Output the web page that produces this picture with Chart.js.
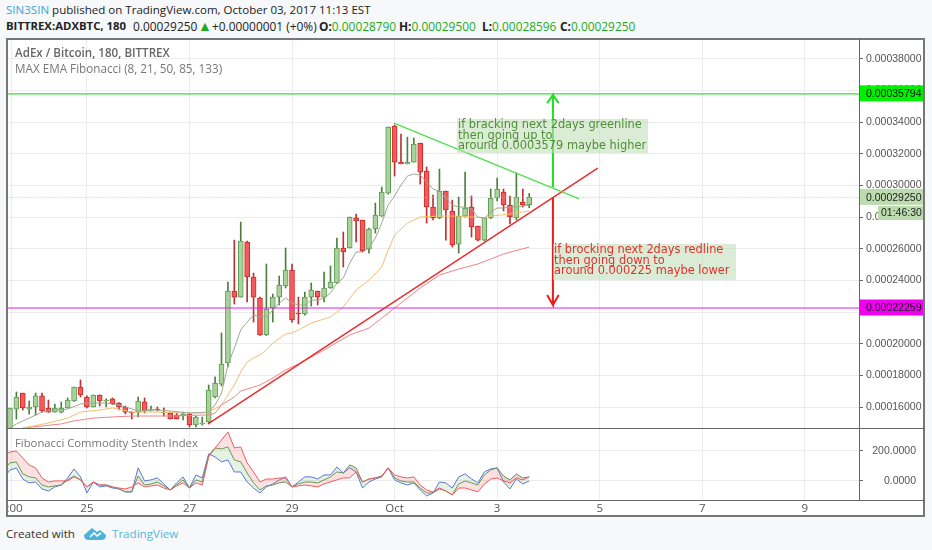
<!DOCTYPE html>
<html><head><meta charset="utf-8">
<script src="https://cdn.jsdelivr.net/npm/chart.js@4/dist/chart.umd.min.js"></script>
<style>
html,body{margin:0;padding:0;width:932px;height:550px;overflow:hidden;background:#f6f8fa;font-family:"Open Sans",sans-serif;color:#222}
.abs{position:absolute;white-space:nowrap}
canvas{position:absolute;display:block}
.g{color:#1faa1f}
.h{position:absolute;top:18px;font-size:11.9px;line-height:16px;white-space:nowrap}
</style></head><body>
<div class="abs" style="left:6px;top:2px;font-size:11.55px;line-height:16px"><span style="color:#3ca6d8">SIN3SIN</span> published on TradingView.com, October 03, 2017 11:13 EST</div>
<span class="h" style="left:6px;font-size:11.35px"><b>BITTREX:ADXBTC, 180</b></span>
<span class="h" style="left:133px">0.00029250</span>
<span class="h g" style="left:198px;font-size:14px">▲</span>
<span class="h" style="left:212px">+0.00000001 (+0%)</span>
<span class="h" style="left:319px"><b>O:</b><span class="g">0.00028790</span></span>
<span class="h" style="left:399px"><b>H:</b><span class="g">0.00029500</span></span>
<span class="h" style="left:482px"><b>L:</b><span class="g">0.00028596</span></span>
<span class="h" style="left:560px"><b>C:</b><span class="g">0.00029250</span></span>
<div class="abs" style="left:6px;top:38px;width:919px;height:479px;background:#fff"></div>
<canvas id="main" width="919" height="390" style="left:6px;top:38px;width:919px;height:390px"></canvas>
<canvas id="sub" width="919" height="89" style="left:6px;top:428px;width:919px;height:89px"></canvas>
<div class="abs" style="left:6px;top:38px;width:919px;height:479px;box-sizing:border-box;border:2px solid #777"></div>
<div class="abs" style="left:6px;top:428px;width:919px;height:1px;background:#666"></div>
<div class="abs" style="left:6px;top:500px;width:919px;height:1px;background:#666"></div>
<div class="abs" style="left:859px;top:38px;width:1px;height:462px;background:#666"></div>
<div class="abs" style="left:15px;top:45px;font-size:11.6px;font-weight:600;color:#666;line-height:16px">AdEx / Bitcoin, 180, BITTREX</div>
<div class="abs" style="left:15px;top:60px;font-size:11.7px;color:#777;line-height:16px">MAX EMA Fibonacci (8, 21, 50, 85, 133)</div>
<div class="abs" style="left:15px;top:435px;font-size:11.3px;color:#777;line-height:16px">Fibonacci Commodity Stenth Index</div>
<div class="abs" style="left:6px;top:526px;font-size:11.6px;line-height:16px;color:#333">Created with</div>
<svg class="abs" style="left:83px;top:526px" width="24" height="15" viewBox="0 0 24 15"><path d="M1 9 L9 2 L14 6 L17 4 L23 9 Q23 14 18 14 L6 14 Q1 14 1 9Z" fill="#4ab3dc"/><path d="M7 11 L11 7 L14 10 L18 7" stroke="#fff" stroke-width="1.6" fill="none"/></svg>
<div class="abs" style="left:112px;top:526px;font-size:11.6px;line-height:16px;color:#5ab5dc">TradingView</div>
<script>
// Prices are in units of 0.00000001 BTC
const barIndex = Array.from({length:82},(_, i)=>i);
const opens = [14600,15870,16880,15870,16000,16700,15940,15680,15680,15940,16380,17260,16630,16000,16760,16380,16510,16250,16000,15680,15680,16320,15810,15870,15680,15620,15490,15430,15560,14860,14930,15050,16630,17450,18780,23330,22950,26430,24220,22890,20550,22260,22950,23650,24660,21940,21880,22950,23330,22950,23520,23840,26050,26050,27950,27820,25990,27250,28070,29520,33760,31480,31360,31480,32680,30920,28640,27950,29650,28390,26300,28070,28640,27440,26550,27950,29210,29590,28770,27950,28960,28790];
const highs = [15940,16950,16880,16380,16880,16880,16440,16190,16320,16570,17260,17710,16700,16760,16760,16510,16570,16280,16060,15700,16630,16570,16060,16000,15940,15680,15620,15680,15620,15430,15370,17390,17900,20680,23900,26550,27690,26490,24470,22950,25040,23140,24280,26050,25040,22950,23270,23840,23330,24530,24910,26680,27060,28010,28200,27820,27310,28890,29900,33700,33820,33250,33060,33000,32680,31170,29400,31040,29650,29080,29270,30850,29340,27440,27950,29780,30470,29780,29340,30790,29780,29500];
const lows = [14600,15240,15810,15560,15490,15680,15650,15680,15620,15940,16350,16630,15940,16000,16060,16000,16150,15810,15560,15240,15370,15620,15750,15750,15430,15240,15240,15180,14740,14740,14860,14930,16570,17330,18530,22510,22950,22640,21370,20520,20520,21370,22450,23520,21370,21250,21810,22380,22450,22640,23500,23800,24850,26050,26430,25800,25730,27000,28050,29460,30600,31360,31360,31480,30090,27630,27820,27900,26550,26110,25730,28000,26740,26500,26500,27900,29020,28390,27570,27820,28640,28596];
const closes = [15940,16630,15940,16000,16700,15750,15680,15940,15940,16440,17260,16760,16000,16760,16380,16440,16190,16000,15680,15620,16380,15750,15870,15810,15620,15240,15240,15560,14860,15370,14990,17070,17520,18720,23330,22950,26490,24220,22950,20550,22190,22950,23710,24660,21500,21880,22950,23390,22950,23520,23900,26050,25800,28010,27760,25860,27250,28130,29590,33700,31480,31360,31480,32620,30850,28640,27950,29650,28450,26240,28070,28580,27380,26550,27950,29210,29780,28770,28010,29270,28770,29250];

const ema8Bars = [0,1,3,5,7,9,11,12,15,17,18,20,23,25,28,31,32,33,34,35,36,37,38,39,40,41,42,43,44,45,46,47,48,49,50,51,52,53,54,55,56,57,58,59,60,61,62,63,64,65,66,67,68,69,70,71,72,73,74,75,76,77,78,79,81];
const ema8Values = [14670,14930,15300,15680,15810,15870,16190,16250,16250,16130,16000,15750,15810,15750,15620,15680,16130,16880,18650,19730,20870,21370,21810,21690,21690,22130,22570,22890,22570,22450,22450,22760,22760,22890,23200,23840,24150,25100,25800,25800,26050,26680,27630,28770,29340,30030,30600,30730,30660,30220,29780,29650,29210,28770,28640,28640,28510,28010,27950,28320,28580,28580,28640,28640,28770];
const ema21Bars = [2,6,9,11,14,16,19,23,27,30,31,33,34,35,36,37,38,39,40,41,43,44,45,47,50,52,54,56,58,59,60,62,64,67,70,72,74,75,78,81];
const ema21Values = [14670,14990,15300,15680,15810,15940,15680,15680,15620,15620,15680,16130,16760,17390,18210,18840,19100,19290,19600,20040,20610,20680,20870,21310,21690,22320,23390,24030,24850,25920,26870,27630,28010,28070,28070,28010,27950,28070,28200,28390];
const ema50Bars = [2,5,8,10,13,16,19,22,25,30,31,32,33,35,36,38,39,41,43,45,49,53,56,60,64,67,70,73,77,81];
const ema50Values = [14670,14800,14930,15120,15300,15370,15430,15430,15430,15490,15490,15620,16130,16630,17010,17260,17390,17830,18340,18720,19600,20550,20990,22260,23520,24340,24720,25040,25670,26110];

const oscBars = Array.from({length:83},(_, i)=>i-1);
const oscRed = [167,193,200,153,107,87,20,-7,0,0,0,27,7,-40,-7,-27,-27,-40,-47,-53,-40,-13,-40,-33,-27,-47,-60,-33,-13,-47,-13,-27,160,220,273,327,220,227,120,60,-7,13,13,20,20,-40,-33,-27,-33,-40,-20,-7,7,20,20,60,-7,13,20,33,87,40,27,20,27,-27,-60,-73,-47,-67,-93,-47,-47,-60,-73,-20,13,20,0,-13,20,7,27];
const oscGreen = [73,120,127,47,27,20,-27,-40,-33,-27,7,33,7,-40,-7,-27,-27,-40,-53,-73,-73,33,-27,-20,-7,-33,-60,-27,7,-47,7,-7,173,220,213,227,140,127,53,-13,-60,-33,-27,-13,-7,-40,-20,-7,-7,-13,7,27,60,53,107,87,-7,13,20,33,87,20,0,-7,-7,-47,-80,-80,-53,-67,-93,-20,0,-13,-27,40,73,87,33,7,47,20,27];
const oscBlue = [20,73,87,13,-13,-7,-53,-67,-40,-27,20,80,27,-80,-7,-40,-33,-47,-53,-73,-73,87,0,7,20,-20,-60,-13,27,-47,40,20,180,160,127,140,60,60,-7,-47,-80,-40,-20,7,27,-40,-7,27,27,13,40,40,93,53,87,60,-47,-7,13,27,87,7,-13,-27,-13,-60,-100,-80,-7,-13,-47,27,47,13,-13,60,80,87,-7,-53,13,-20,0];

const priceTicks = [16000,18000,20000,22000,24000,26000,28000,30000,32000,34000,36000,38000];
const oscTicks = [0,200];
const timeTicks = [0.2,12,28,44,60,76,92,108,124];
const timeLabels = ["4:00","25","27","29","Oct","3","5","7","9"];

const resistanceLevel = 35794, supportLevel = 22259, lastPrice = 29250;
const greenTrendBars = [59.9,88.8], greenTrendValues = [33950,29150];
const redTrendBars = [30.9,91.7], redTrendValues = [14926,31100];
const upArrowBars = [84.7,84.7,83.8,84.7,85.6], upArrowValues = [29900,35720,35210,35720,35210];
const downArrowBars = [84.7,84.7,83.8,84.7,85.6], downArrowValues = [29270,22450,23080,22450,23080];
const greenNote = ["if bracking next 2days greenline","then going up to","around 0.0003579 maybe higher"];
const redNote = ["if brocking next 2days redline","then going down to","around 0.000225 maybe lower"];

const fmtPrice = v => (v*1e-8).toFixed(8);
const pts = (xs,ys) => xs.map((x,i)=>({x,y:ys[i]}));
const isUp = i => closes[i] >= opens[i];
const xMin = -0.62, xMax = 132.45;
const lineDs = (xs,ys,color,width,order,extra) => Object.assign({type:'line',data:pts(xs,ys),borderColor:color,borderWidth:width,pointRadius:0,tension:0,fill:false,order},extra||{});
const noPadding = s => {s.paddingTop=0;s.paddingBottom=0;s.paddingLeft=0;s.paddingRight=0;};

const overlay = {
  id:'overlay',
  afterDraw(c){
    const g=c.ctx, y=c.scales.y;
    g.save();
    const box=(x,w,yc,h,bg)=>{g.fillStyle=bg;g.fillRect(x,yc,w,h);};
    const note=(lines,x,y0,w,h,fg)=>{
      box(x,w,y0,h,'rgba(190,220,180,0.55)');
      g.fillStyle=fg;g.font='11.4px "DejaVu Sans"';g.textBaseline='middle';g.textAlign='left';
      lines.forEach((t,i)=>g.fillText(t,x+1,y0+6.5+i*10.5));
    };
    note(greenNote,451,81,191,34,'#4f8f37');
    note(redNote,547,206,183,36,'#e2302c');
    // price badges on the axis
    g.font='10.5px "Liberation Sans"';g.textBaseline='middle';g.textAlign='left';
    const badge=(v,bg,fg)=>{const p=y.getPixelForValue(v);box(853,66,p-8.5,16,bg);g.fillStyle=fg;g.fillText(fmtPrice(v),860,p+.5);};
    badge(resistanceLevel,'#00f000','#111');
    badge(supportLevel,'#f000f0','#111');
    badge(lastPrice,'#bcdcb0','#222');
    box(872,47,168,14,'#bcdcb0');
    g.fillStyle='#222';g.fillText('01:46:30',875,175.5);
    g.restore();
  }
};

new Chart(document.getElementById('main'),{
  type:'bar',
  data:{datasets:[
    {type:'bar',data:pts(barIndex,barIndex.map(i=>[opens[i],closes[i]])),grouped:false,barThickness:5,borderWidth:1,borderSkipped:false,
      backgroundColor:barIndex.map(i=>isUp(i)?'#a9d39a':'#f75a5a'),borderColor:barIndex.map(i=>isUp(i)?'#5c9a54':'#c92a2a'),order:10},
    {type:'bar',data:pts(barIndex,barIndex.map(i=>[lows[i],highs[i]])),grouped:false,barThickness:1,borderWidth:0,
      backgroundColor:barIndex.map(i=>isUp(i)?'#4f7f3f':'#b83232'),order:11},
    lineDs(ema8Bars,ema8Values,'#9aaa90',1,5),
    lineDs(ema21Bars,ema21Values,'#f5bd6f',1,5),
    lineDs(ema50Bars,ema50Values,'#ee8388',1,5),
    lineDs([-1,133],[lastPrice,lastPrice],'#9ccf9c',1,6,{borderDash:[1,2]}),
    lineDs([-1,133],[resistanceLevel,resistanceLevel],'#35e035',1.2,2),
    lineDs([-1,133],[supportLevel,supportLevel],'#e51fe5',1.2,2),
    lineDs(greenTrendBars,greenTrendValues,'#4fe04f',1.3,1),
    lineDs(redTrendBars,redTrendValues,'#ea2d2d',1.5,1),
    lineDs(upArrowBars,upArrowValues,'#22dd22',2,1),
    lineDs(downArrowBars,downArrowValues,'#ea1c1c',2,1)
  ]},
  options:{
    responsive:false,animation:false,devicePixelRatio:1,
    layout:{padding:0,autoPadding:false},
    plugins:{legend:{display:false},tooltip:{enabled:false}},
    scales:{
      x:{type:'linear',offset:false,min:xMin,max:xMax,
        grid:{offset:false,color:'#ececec',drawTicks:false,lineWidth:1},border:{display:false},
        ticks:{display:false},
        afterBuildTicks(s){s.ticks=timeTicks.map(value=>({value}));},
        afterFit(s){s.height=0;noPadding(s);}},
      y:{type:'linear',position:'right',min:14673,max:39325,
        grid:{color:'#ececec',tickColor:'#666',tickLength:4},border:{display:false},
        ticks:{color:'#555',font:{family:'"Liberation Sans"',size:10.5},padding:3,autoSkip:false,callback:v=>fmtPrice(v)},
        afterBuildTicks(s){s.ticks=priceTicks.map(value=>({value}));},
        afterFit(s){s.width=66;noPadding(s);}}
    }
  },
  plugins:[overlay]
});

new Chart(document.getElementById('sub'),{
  type:'line',
  data:{datasets:[
    {data:pts(oscBars,oscBlue),borderColor:'#5b6fe0',borderWidth:1,pointRadius:0,tension:0,fill:false,order:3},
    {data:pts(oscBars,oscGreen),borderColor:'#5f9c5a',borderWidth:1,pointRadius:0,tension:0,fill:{target:0},backgroundColor:'rgba(110,190,110,0.18)',order:2},
    {data:pts(oscBars,oscRed),borderColor:'#ef5a62',borderWidth:1,pointRadius:0,tension:0,fill:{target:1},backgroundColor:'rgba(240,90,90,0.18)',order:1}
  ]},
  options:{
    responsive:false,animation:false,devicePixelRatio:1,
    layout:{padding:{right:9},autoPadding:false},
    plugins:{legend:{display:false},tooltip:{enabled:false}},
    scales:{
      x:{type:'linear',offset:false,min:xMin,max:xMax,
        grid:{color:'#ececec',drawTicks:false},border:{display:false},
        ticks:{color:'#555',font:{family:'"Open Sans"',size:11.5},padding:2,maxRotation:0,autoSkip:false,
          callback:v=>timeLabels[timeTicks.indexOf(v)]},
        afterBuildTicks(s){s.ticks=timeTicks.map(value=>({value}));},
        afterFit(s){s.height=17;noPadding(s);}},
      y:{type:'linear',position:'right',min:-127,max:353,
        grid:{color:'#ececec',tickColor:'#666',tickLength:4},border:{display:false},
        ticks:{color:'#555',font:{family:'"Liberation Sans"',size:10.5},padding:3,crossAlign:'far',autoSkip:false,callback:v=>v.toFixed(4)},
        afterBuildTicks(s){s.ticks=oscTicks.map(value=>({value}));},
        afterFit(s){s.width=57;noPadding(s);}}
    }
  }
});
</script>
</body></html>
